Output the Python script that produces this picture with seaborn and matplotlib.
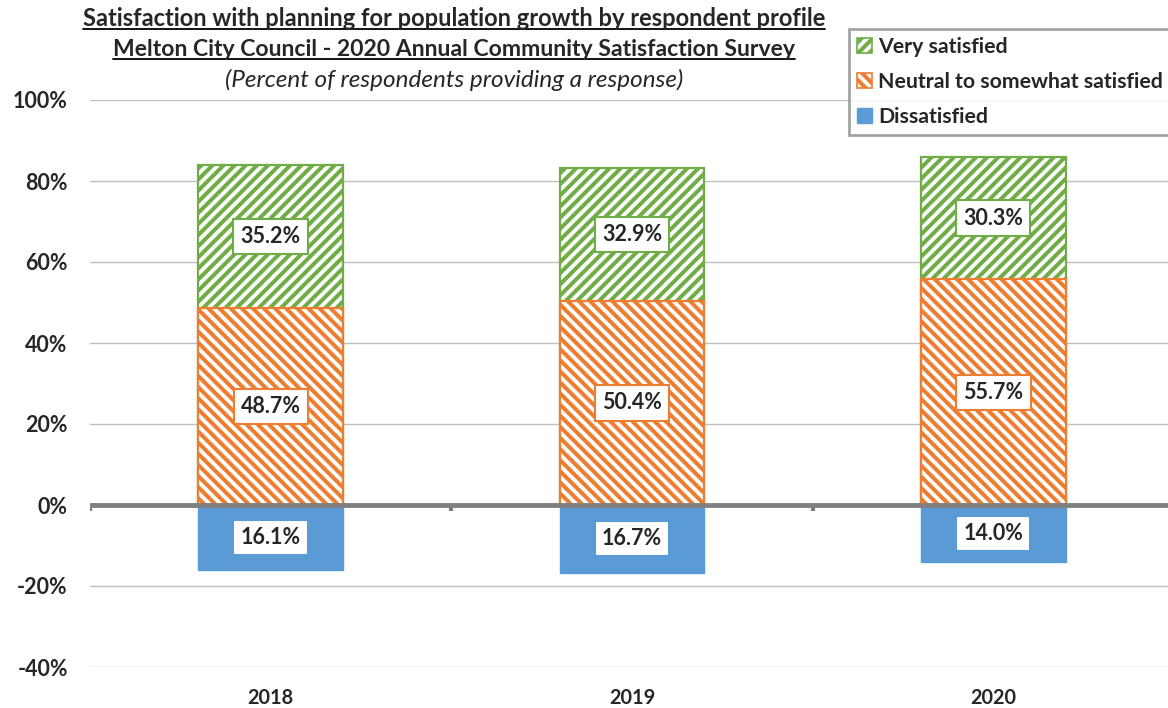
import matplotlib
matplotlib.use("Agg")
import matplotlib.pyplot as plt
import seaborn as sns
import pandas as pd
from matplotlib.patches import Patch
from matplotlib.lines import Line2D

years = ["2018", "2019", "2020"]
very_satisfied = [35.2, 32.9, 30.3]
neutral = [48.7, 50.4, 55.7]
dissatisfied = [16.1, 16.7, 14.0]
yticks = [-40, -20, 0, 20, 40, 60, 80, 100]
series_names = ["Very satisfied", "Neutral to somewhat satisfied", "Dissatisfied"]

GREEN = "#70AD47"
ORANGE = "#ED7D31"
BLUE = "#5B9BD5"
GRID = "#BFBFBF"
AXIS = "#808080"

sns.set_theme(style="white")
plt.rcParams['font.family'] = ['Lato', 'DejaVu Sans']
plt.rcParams['hatch.linewidth'] = 2.9

W, H = 1168, 708
fig = plt.figure(figsize=(W / 100, H / 100), dpi=100)
ax = fig.add_axes([90 / W, 41 / H, 1084 / W, 567 / H])

df = pd.DataFrame({"year": years, "very": very_satisfied,
                   "neutral": neutral, "dis": dissatisfied})
df["top"] = df["neutral"] + df["very"]
df["neg"] = -df["dis"]

sns.barplot(data=df, x="year", y="top", ax=ax, width=0.4, color="white",
            edgecolor=GREEN, hatch="///", linewidth=1.6, saturation=1, zorder=2)
sns.barplot(data=df, x="year", y="neutral", ax=ax, width=0.4, color="white",
            edgecolor=ORANGE, hatch="\\\\\\", linewidth=1.6, saturation=1, zorder=3)
sns.barplot(data=df, x="year", y="neg", ax=ax, width=0.4, color=BLUE,
            edgecolor=BLUE, linewidth=1, saturation=1, zorder=3)

ax.set_xlim(-0.5, 2.5)
ax.set_ylim(-40, 100)
ax.set_yticks(yticks)
ax.set_yticklabels([f"{t}%" for t in yticks], fontsize=15.5, fontweight="bold")
ax.set_xticklabels(years, fontsize=14.3, fontweight="bold")
ax.tick_params(axis="y", length=0, pad=16)
ax.tick_params(axis="x", length=0, pad=15)
ax.set_xlabel("")
ax.set_ylabel("")
for s in ax.spines.values():
    s.set_visible(False)
for t in yticks:
    if t != 0:
        ax.axhline(t, color=GRID, lw=1, zorder=0)
ax.axhline(0, color=AXIS, lw=3.5, zorder=5)
ax.vlines([-0.5, 0.5, 1.5, 2.5], -1.6, 0, color=AXIS, lw=3, zorder=5)

box = dict(boxstyle="square,pad=0.33", fc="white", lw=1.5)
for i in range(len(years)):
    ax.text(i, neutral[i] + very_satisfied[i] / 2, f"{very_satisfied[i]:.1f}%",
            ha="center", va="center", fontsize=15.5, fontweight="bold",
            bbox={**box, "ec": GREEN}, zorder=6)
    ax.text(i, neutral[i] / 2, f"{neutral[i]:.1f}%",
            ha="center", va="center", fontsize=15.5, fontweight="bold",
            bbox={**box, "ec": ORANGE}, zorder=6)
    ax.text(i, -dissatisfied[i] / 2, f"{dissatisfied[i]:.1f}%",
            ha="center", va="center", fontsize=15.5, fontweight="bold",
            bbox={**box, "ec": BLUE}, zorder=6)

handles = [Patch(facecolor="white", edgecolor=GREEN, hatch="///", lw=1.2),
           Patch(facecolor="white", edgecolor=ORANGE, hatch="\\\\\\", lw=1.2),
           Patch(facecolor=BLUE, edgecolor=BLUE)]
leg = fig.legend(handles, series_names, loc="upper left",
                 bbox_to_anchor=(849 / W, 1 - 29 / H), frameon=True, fancybox=False,
                 prop={"weight": "bold", "size": 15.3}, handlelength=0.7,
                 handleheight=0.7, handletextpad=0.3, labelspacing=0.72,
                 borderpad=0.36, borderaxespad=0)
leg.get_frame().set_edgecolor("#8C8C8C")
leg.get_frame().set_linewidth(2)

cx = 454 / W
t1 = fig.text(cx, 1 - 18 / H, "Satisfaction with planning for population growth by respondent profile",
              ha="center", va="center", fontsize=17, fontweight="bold")
t2 = fig.text(cx, 1 - 49 / H, "Melton City Council - 2020 Annual Community Satisfaction Survey",
              ha="center", va="center", fontsize=16.6, fontweight="bold")
t3 = fig.text(cx, 1 - 80 / H, "(Percent of respondents providing a response)",
              ha="center", va="center", fontsize=17.5, style="italic")

fig.canvas.draw()
r = fig.canvas.get_renderer()
for t in (t1, t2):
    bb = t.get_window_extent(r)
    y = (bb.y0 + 1) / H
    fig.add_artist(Line2D([bb.x0 / W, bb.x1 / W], [y, y], color="black", lw=1.3,
                          transform=fig.transFigure))

fig.savefig("out.png", dpi=100)
